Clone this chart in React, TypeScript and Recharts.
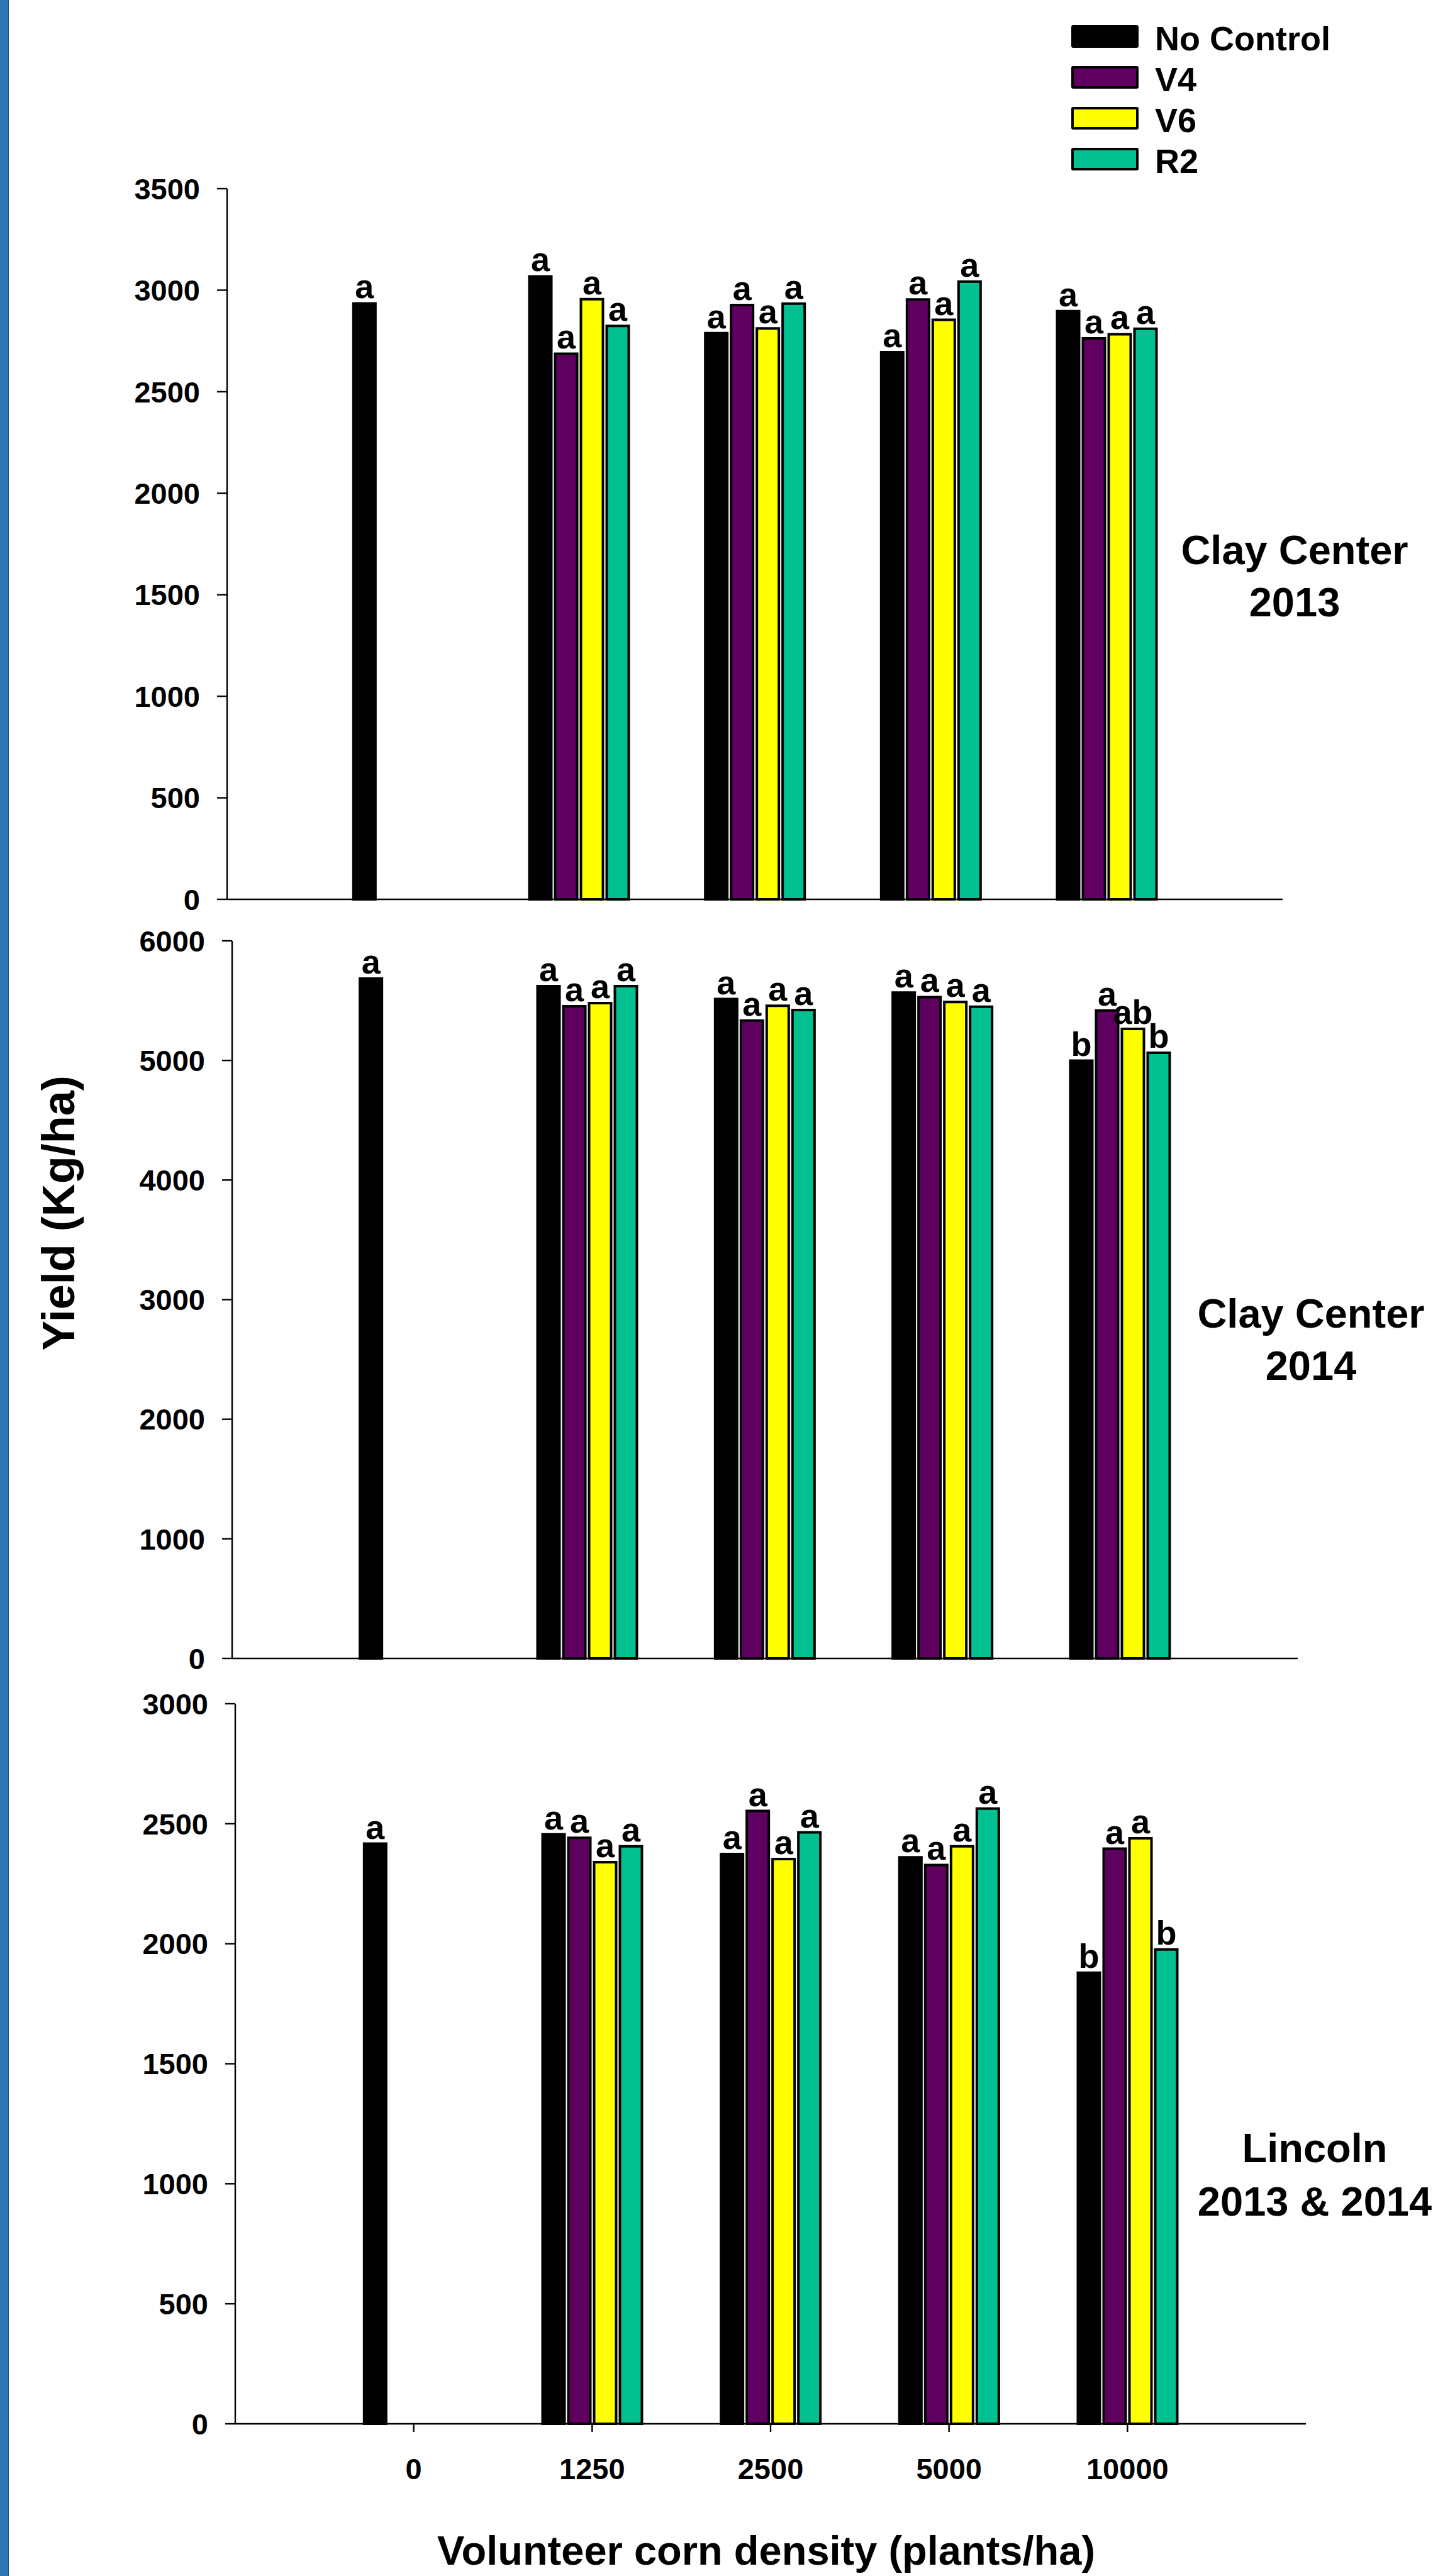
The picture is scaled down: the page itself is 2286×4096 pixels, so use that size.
import React from 'react'
import { BarChart, Bar, XAxis, YAxis, LabelList, Legend } from 'recharts'

const densities = ['0', '1250', '2500', '5000', '10000']
const seriesKeys = ['noControl', 'v4', 'v6', 'r2']
const seriesNames = ['No Control', 'V4', 'V6', 'R2']
const seriesColors = ['#000000', '#5F0060', '#FFFF00', '#00C18F']

// Clay Center 2013
const cc13NoControl = [2935, 3068, 2788, 2695, 2897]
const cc13V4 = [null, 2687, 2927, 2954, 2763]
const cc13V6 = [null, 2956, 2812, 2854, 2783]
const cc13R2 = [null, 2824, 2934, 3042, 2810]
const cc13NoControlSig = ['a', 'a', 'a', 'a', 'a']
const cc13V4Sig = [null, 'a', 'a', 'a', 'a']
const cc13V6Sig = [null, 'a', 'a', 'a', 'a']
const cc13R2Sig = [null, 'a', 'a', 'a', 'a']
const cc13Ticks = [0, 500, 1000, 1500, 2000, 2500, 3000, 3500]

// Clay Center 2014
const cc14NoControl = [5684, 5621, 5513, 5567, 4998]
const cc14V4 = [null, 5453, 5334, 5530, 5418]
const cc14V6 = [null, 5480, 5457, 5488, 5264]
const cc14R2 = [null, 5621, 5422, 5449, 5064]
const cc14NoControlSig = ['a', 'a', 'a', 'a', 'b']
const cc14V4Sig = [null, 'a', 'a', 'a', 'a']
const cc14V6Sig = [null, 'a', 'a', 'a', 'ab']
const cc14R2Sig = [null, 'a', 'a', 'a', 'b']
const cc14Ticks = [0, 1000, 2000, 3000, 4000, 5000, 6000]

// Lincoln 2013 & 2014
const linNoControl = [2417, 2456, 2374, 2360, 1879]
const linV4 = [null, 2441, 2553, 2328, 2396]
const linV6 = [null, 2340, 2353, 2406, 2439]
const linR2 = [null, 2406, 2464, 2563, 1976]
const linNoControlSig = ['a', 'a', 'a', 'a', 'b']
const linV4Sig = [null, 'a', 'a', 'a', 'a']
const linV6Sig = [null, 'a', 'a', 'a', 'a']
const linR2Sig = [null, 'a', 'a', 'a', 'b']
const linTicks = [0, 500, 1000, 1500, 2000, 2500, 3000]

const FONT = "'Liberation Sans', Arial, Helvetica, sans-serif"

const buildRows = (values: (number | null)[][], sigs: (string | null)[][]) =>
  densities.map((d, i) => {
    const row: Record<string, any> = { density: d }
    seriesKeys.forEach((k, s) => {
      row[k] = values[s][i]
      row[k + 'Sig'] = sigs[s][i]
    })
    return row
  })

const cc13Rows = buildRows(
  [cc13NoControl, cc13V4, cc13V6, cc13R2],
  [cc13NoControlSig, cc13V4Sig, cc13V6Sig, cc13R2Sig]
)
const cc14Rows = buildRows(
  [cc14NoControl, cc14V4, cc14V6, cc14R2],
  [cc14NoControlSig, cc14V4Sig, cc14V6Sig, cc14R2Sig]
)
const linRows = buildRows(
  [linNoControl, linV4, linV6, linR2],
  [linNoControlSig, linV4Sig, linV6Sig, linR2Sig]
)

const axisStyle = { stroke: '#000', strokeWidth: 2.4 }
const tickStyle = { fill: '#000', fontSize: 47, fontWeight: 'bold', fontFamily: FONT }

// keep legend rows in series order (Recharts sorts by name otherwise)
const renderLegend = (props: any) => {
  const items = [...(props.payload || [])].sort(
    (a: any, b: any) => seriesNames.indexOf(a.value) - seriesNames.indexOf(b.value)
  )
  return (
    <div style={{ fontFamily: FONT }}>
      {items.map((entry: any) => (
        <div
          key={entry.value}
          style={{ display: 'flex', alignItems: 'center', height: 65 }}
        >
          <div
            style={{
              width: 99,
              height: 28,
              background: entry.color ?? entry.payload?.fill,
              border: '4px solid #000',
              borderRadius: 3
            }}
          />
          <span
            style={{
              marginLeft: 26,
              marginTop: 6,
              fontSize: 54,
              fontWeight: 'bold',
              lineHeight: 1,
              color: '#000'
            }}
          >
            {entry.value}
          </span>
        </div>
      ))}
    </div>
  )
}

interface PanelProps {
  rows: Record<string, any>[]
  ticks: number[]
  top: number
  left: number
  plotRight: number
  plotTop: number
  plotBottom: number
  axisHeight: number
  showTickLabels?: boolean
  showLegend?: boolean
}

const Panel = ({
  rows,
  ticks,
  top,
  left,
  plotRight,
  plotTop,
  plotBottom,
  axisHeight,
  showTickLabels,
  showLegend
}: PanelProps) => {
  const width = 2286
  const height = plotBottom - top + axisHeight
  const pad = (plotRight - left) / 12
  return (
    <div style={{ position: 'absolute', top, left: 0 }}>
      <BarChart
        width={width}
        height={height}
        data={rows}
        margin={{ top: plotTop - top, right: width - plotRight, left: 0, bottom: 0 }}
        barSize={35}
        barGap={6}
      >
        <XAxis
          dataKey="density"
          height={axisHeight}
          padding={{ left: pad, right: pad }}
          axisLine={axisStyle}
          tickLine={axisStyle}
          tickSize={13}
          tickMargin={42}
          tick={showTickLabels ? tickStyle : false}
          interval={0}
        />
        <YAxis
          width={left}
          domain={[0, ticks[ticks.length - 1]]}
          ticks={ticks}
          interval={0}
          axisLine={axisStyle}
          tickLine={axisStyle}
          tickSize={16}
          tickMargin={27}
          tick={tickStyle}
        />
        {showLegend && (
          <Legend
            layout="vertical"
            align="center"
            verticalAlign="middle"
            wrapperStyle={{ top: 25, left: 1703, width: 560 }}
            content={renderLegend}
          />
        )}
        {seriesKeys.map((k, s) => (
          <Bar
            key={k}
            dataKey={k}
            name={seriesNames[s]}
            fill={seriesColors[s]}
            stroke="#000"
            strokeWidth={4}
            isAnimationActive={false}
          >
            <LabelList
              dataKey={k + 'Sig'}
              position="top"
              offset={8}
              fill="#000"
              fontSize={54}
              fontWeight="bold"
              fontFamily={FONT}
            />
          </Bar>
        ))}
      </BarChart>
    </div>
  )
}

const App = () => {
  return (
    <div
      style={{
        position: 'absolute',
        top: 0,
        left: 0,
        width: 2286,
        height: 4096,
        background: '#fff',
        overflow: 'hidden',
        fontFamily: FONT
      }}
    >
      <div
        style={{
          position: 'absolute',
          top: 0,
          left: 0,
          width: 13,
          height: 4096,
          background: '#2E75B6',
          borderRight: '1px solid #1F4E79'
        }}
      />
      <Panel
        rows={cc13Rows}
        ticks={cc13Ticks}
        top={0}
        left={361}
        plotRight={2039}
        plotTop={300}
        plotBottom={1430}
        axisHeight={50}
        showLegend
      />
      <Panel
        rows={cc14Rows}
        ticks={cc14Ticks}
        top={1440}
        left={369}
        plotRight={2063}
        plotTop={1496}
        plotBottom={2637}
        axisHeight={50}
      />
      <Panel
        rows={linRows}
        ticks={linTicks}
        top={2650}
        left={374}
        plotRight={2076}
        plotTop={2709}
        plotBottom={3854}
        axisHeight={130}
        showTickLabels
      />
      <svg
        width={2286}
        height={4096}
        style={{ position: 'absolute', top: 0, left: 0, pointerEvents: 'none' }}
        fontFamily={FONT}
        fontWeight="bold"
        fill="#000"
      >
        <text transform="translate(118,1929) rotate(-90)" textAnchor="middle" fontSize={72}>
          Yield (Kg/ha)
        </text>
        <text x={1218} y={4078} textAnchor="middle" fontSize={65}>
          Volunteer corn density (plants/ha)
        </text>
        <text x={2058} y={897} textAnchor="middle" fontSize={65}>Clay Center</text>
        <text x={2058} y={980} textAnchor="middle" fontSize={65}>2013</text>
        <text x={2084} y={2111} textAnchor="middle" fontSize={65}>Clay Center</text>
        <text x={2084} y={2194} textAnchor="middle" fontSize={65}>2014</text>
        <text x={2090} y={3438} textAnchor="middle" fontSize={65}>Lincoln</text>
        <text x={2090} y={3523} textAnchor="middle" fontSize={65}>2013 &amp; 2014</text>
      </svg>
    </div>
  )
}

export default App
